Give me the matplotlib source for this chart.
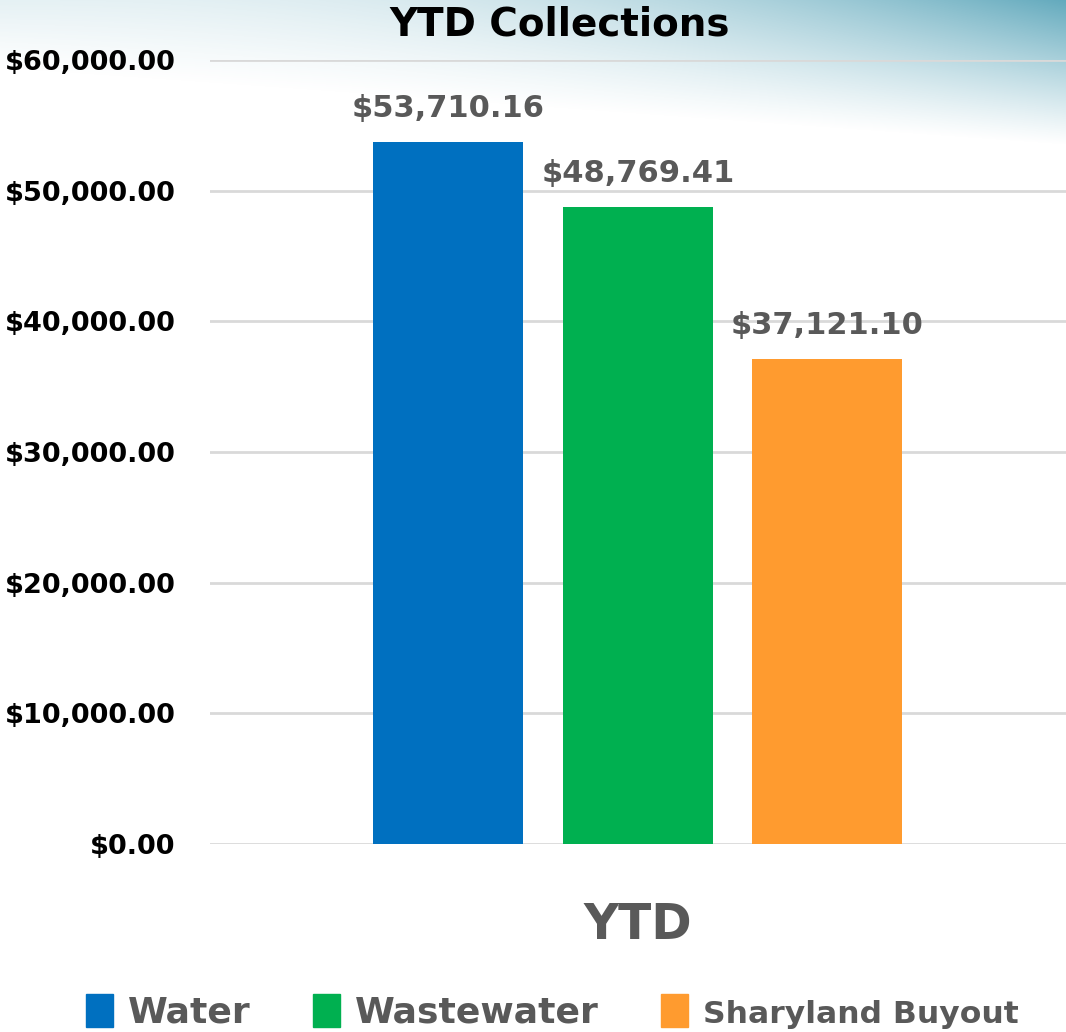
import numpy as np
import matplotlib.pyplot as plt
from matplotlib.ticker import FuncFormatter
from matplotlib.patches import Patch

# -----------------------------------------------------------------------------

series = ['Water', 'Wastewater', 'Sharyland Buyout']
values = [53710.16, 48769.41, 37121.10]
colors = ['#0070C0', '#00B050', '#FF9B2F']
category = 'YTD'

yticks = [0, 10000, 20000, 30000, 40000, 50000, 60000]

plt.rcParams['font.family'] = ['DejaVu Sans']
plt.rcParams['font.weight'] = 'bold'

GRAY = '#595959'

# -----------------------------------------------------------------------------

fig = plt.figure(figsize=(10.66, 10.32), dpi=100, facecolor='white')

# teal wash across the top of the slide
H, W = 1032, 1066
yy, xx = np.mgrid[0:H, 0:W]
xf = xx / W
fade = np.clip(1 - yy / (70 + 75 * xf), 0, 1) ** 1.1
alpha = (0.16 + 0.8 * xf ** 2.4) * fade
img = np.zeros((H, W, 4))
img[..., 0] = 92 / 255
img[..., 1] = 166 / 255
img[..., 2] = 186 / 255
img[..., 3] = alpha
bg = fig.add_axes([0, 0, 1, 1], zorder=-1)
bg.imshow(img, extent=[0, 1, 0, 1], aspect='auto')
bg.axis('off')

ax = fig.add_axes([210 / 1066, 1 - 844 / 1032, 856 / 1066, 784 / 1032])
ax.patch.set_alpha(0)

width = 150 / 856
offsets = [-190 / 856, 0, 189 / 856]
for name, val, col, off in zip(series, values, colors, offsets):
    ax.bar(off, val, width, color=col, label=name, zorder=2)
    ax.text(off, val + 1450, '${:,.2f}'.format(val), ha='center', va='bottom',
            fontsize=22, color=GRAY, fontweight='bold')

ax.set_xlim(-0.5, 0.5)
ax.set_ylim(0, 60000)
ax.set_yticks(yticks)
ax.yaxis.set_major_formatter(FuncFormatter(lambda v, p: '${:,.2f}'.format(v)))
ax.tick_params(axis='y', length=0, pad=25, labelsize=19.5, labelcolor='black')
ax.set_xticks([])
for s in ax.spines.values():
    s.set_visible(False)
ax.grid(axis='y', color='#d9d9d9', linewidth=2, zorder=0)

fig.text(638 / 1066, 1 - 925 / 1032, category, ha='center', va='center',
         fontsize=35, color=GRAY, fontweight='bold')
fig.text(560 / 1066, 1 - 24 / 1032, 'YTD Collections', ha='center', va='center',
         fontsize=28, color='black', fontweight='bold')

handles = [Patch(color=c) for c in colors]
leg = fig.legend(handles, series, loc='center', bbox_to_anchor=(0.518, 1 - 1012 / 1032),
                 ncol=3, frameon=False, handlelength=0.75, handleheight=1.0,
                 handletextpad=0.42, columnspacing=1.72, fontsize=26)
for t, fs in zip(leg.get_texts(), [26, 26, 22.6]):
    t.set_color(GRAY)
    t.set_fontsize(fs)

fig.savefig('out.png', dpi=100)
